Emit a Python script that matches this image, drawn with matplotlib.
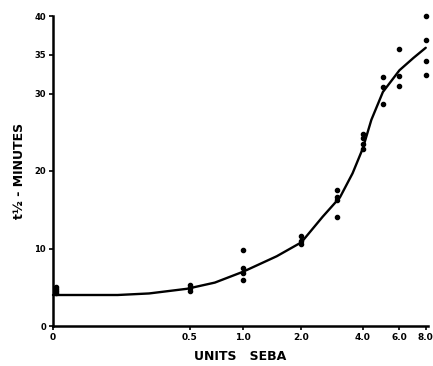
import numpy as np
import matplotlib
matplotlib.use("Agg")
import matplotlib.pyplot as plt

# Observed data points (units SEBA, t1/2 minutes)
pts_x = [0.005, 0.005, 0.005, 0.005,
         0.5, 0.5, 0.5,
         1.0, 1.0, 1.0, 1.0,
         2.0, 2.0, 2.0,
         3.0, 3.0, 3.0, 3.0,
         4.0, 4.0, 4.0, 4.0,
         5.0, 5.0, 5.0,
         6.0, 6.0, 6.0,
         8.0, 8.0, 8.0, 8.0]
pts_y = [4.2, 4.5, 4.8, 5.0,
         4.5, 4.9, 5.3,
         6.0, 6.8, 7.5, 9.8,
         10.6, 11.0, 11.6,
         14.1, 16.3, 16.6, 17.5,
         22.8, 23.5, 24.2, 24.8,
         28.6, 30.8, 32.1,
         31.0, 32.3, 35.7,
         32.4, 34.2, 36.9, 40.0]

# Fitted curve
curve_x = [0.0, 0.15, 0.27, 0.48, 0.7, 1.0, 1.5, 2.0, 2.55, 3.1, 3.57, 4.0, 4.4, 5.0, 6.0, 7.0, 8.0]
curve_y = [4.0, 4.0, 4.2, 4.8, 5.6, 7.0, 9.0, 10.8, 14.1, 16.6, 19.7, 22.9, 26.6, 30.2, 33.0, 34.6, 35.9]

xticks = [0, 0.5, 1.0, 2.0, 4.0, 6.0, 8.0]
xticklabels = ["0", "0.5", "1.0", "2.0", "4.0", "6.0", "8.0"]
yticks = [0, 10, 20, 30, 35, 40]
yticklabels = ["0", "10", "20", "30", "35", "40"]

C = 0.15
fwd = lambda x: np.log10(np.asarray(x, dtype=float) + C)
inv = lambda y: 10 ** np.asarray(y, dtype=float) - C

fig = plt.figure(figsize=(4.33, 3.66), dpi=100)
ax = fig.add_axes([53/433, 40/366, 375/433, 310/366])
ax.set_xscale('function', functions=(fwd, inv))
ax.set_xlim(0, 8.2)
ax.set_ylim(0, 40)

ax.plot(curve_x, curve_y, color='black', lw=1.7, solid_capstyle='round',
        solid_joinstyle='round', clip_on=False)
ax.scatter(pts_x, pts_y, s=9, color='black', zorder=3, clip_on=False)

for s in ['top', 'right']:
    ax.spines[s].set_visible(False)
for s in ['left', 'bottom']:
    ax.spines[s].set_linewidth(1.8)

ax.set_xticks(xticks)
ax.set_xticklabels(xticklabels, fontsize=6.5, fontweight='bold')
ax.set_yticks(yticks)
ax.set_yticklabels(yticklabels, fontsize=6, fontweight='bold')
ax.minorticks_off()
ax.tick_params(axis='both', direction='out', length=3, width=1.2, pad=2)

ax.set_xlabel("UNITS   SEBA", fontsize=9, fontweight='bold', labelpad=6)
ax.set_ylabel("t½ - MINUTES", fontsize=9, fontweight='bold', labelpad=6)

fig.savefig("out.png", dpi=100)
